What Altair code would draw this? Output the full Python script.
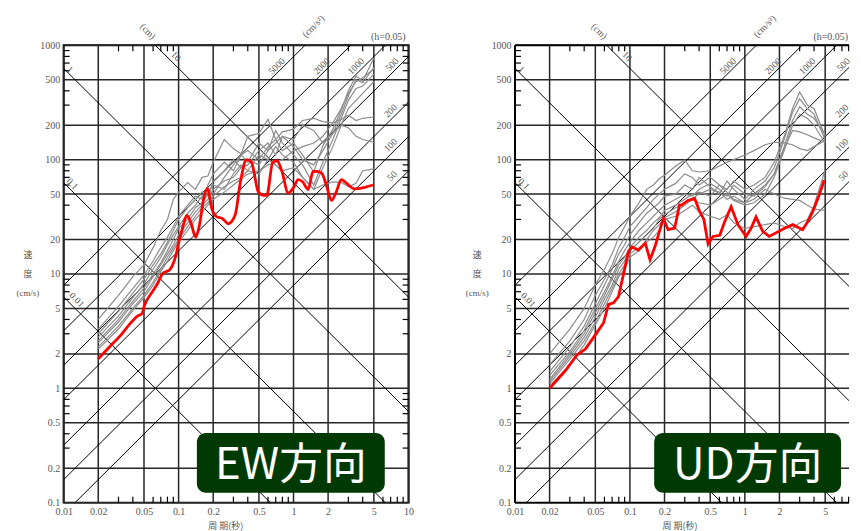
import math
import altair as alt
import pandas as pd

# ---------------- axes / grid values ----------------
X_TICKS = [0.01, 0.02, 0.05, 0.1, 0.2, 0.5, 1, 2, 5, 10]
Y_TICKS = [0.1, 0.2, 0.5, 1, 2, 5, 10, 20, 50, 100, 200, 500, 1000]
X_MINOR = [0.03, 0.04, 0.06, 0.07, 0.08, 0.09, 0.3, 0.4, 0.6, 0.7, 0.8, 0.9,
           3, 4, 6, 7, 8, 9]
Y_MINOR = [0.3, 0.4, 0.6, 0.7, 0.8, 0.9, 3, 4, 6, 7, 8, 9, 30, 40, 60, 70, 80, 90,
           300, 400, 600, 700, 800, 900]
DISP_LINES = [0.01, 0.1, 1, 10]                       # cm
ACC_LINES = [50, 100, 200, 500, 1000, 2000, 5000]     # cm/s^2

# ---------------- EW data ----------------
EW_RED_T = [0.02, 0.025, 0.0317, 0.038, 0.0442, 0.048, 0.0504, 0.058, 0.0658, 0.0727,
            0.078, 0.083, 0.0948, 0.101, 0.108, 0.118, 0.128, 0.141, 0.152, 0.165,
            0.178, 0.195, 0.215, 0.24, 0.27, 0.31, 0.345, 0.39, 0.43, 0.495,
            0.55, 0.585, 0.66, 0.717, 0.79, 0.9, 1.0, 1.1, 1.2, 1.34,
            1.48, 1.6, 1.76, 1.95, 2.14, 2.35, 2.61, 2.85, 3.41, 4.1, 4.91]
EW_RED_V = [1.81, 2.3, 2.95, 3.7, 4.3, 4.5, 5.3, 6.8, 8.3, 10.1,
            10.5, 10.8, 14.6, 19.5, 25, 32.6, 28, 21, 27, 45,
            56, 37, 31.6, 30.6, 27.5, 32.6, 63.6, 100, 95, 52,
            48.7, 48.7, 95, 98, 80, 51, 57, 67, 64, 54.8,
            78.8, 79, 76, 58, 44, 52, 67, 63, 55.5, 57, 60]

T_GRID = [0.02, 0.03, 0.04, 0.05, 0.06, 0.07, 0.08, 0.09, 0.1, 0.12, 0.14, 0.16,
          0.18, 0.2, 0.25, 0.3, 0.35, 0.4, 0.5, 0.6, 0.7, 0.8, 1.0, 1.2, 1.5, 1.8,
          2.2, 2.6, 3.0, 3.5, 4.0, 5.0]

EW_G1 = [4.0, 6.5, 9.5, 12, 17, 24, 30, 45, 52, 63, 55, 70, 72, 95, 150, 125, 112, 160,
         170, 225, 150, 175, 185, 220, 230, 215, 210, 225, 245, 220, 230, 236]
EW_G2 = [3.3, 5.2, 7.5, 9.8, 13, 17, 21, 26, 32, 40, 48, 45, 60, 75, 95, 80, 110, 120,
         100, 130, 150, 120, 140, 110, 78, 132, 185, 270, 400, 540, 486, 775]
EW_G3 = [3.0, 4.7, 6.8, 9.0, 12, 15, 19, 24, 30, 38, 45, 52, 48, 65, 80, 100, 85, 90,
         120, 140, 110, 160, 130, 100, 90, 120, 170, 250, 360, 500, 470, 640]
EW_G4 = [2.8, 4.3, 6.2, 8.2, 11, 14, 18, 22, 26, 34, 40, 48, 55, 50, 70, 90, 110, 95,
         140, 120, 180, 140, 110, 90, 60, 95, 150, 230, 330, 420, 440, 560]
EW_G5 = [2.6, 4.0, 5.8, 7.5, 10, 12.5, 16, 20, 25, 30, 38, 42, 50, 60, 55, 75, 90, 80,
         110, 100, 130, 110, 95, 70, 55, 85, 130, 200, 280, 330, 380, 480]
EW_G6 = [2.5, 3.8, 5.5, 7.0, 9.5, 12, 15, 18, 22, 28, 35, 40, 45, 55, 65, 70, 85, 100,
         90, 120, 140, 160, 150, 200, 180, 140, 170, 200, 190, 160, 150, 142]
EW_G7 = [2.3, 3.5, 5.0, 6.5, 8.5, 11, 14, 17, 20, 26, 32, 38, 42, 48, 58, 65, 70, 80,
         75, 100, 90, 80, 85, 70, 55, 60, 64, 63, 58, 62, 80, 83]
EW_G8 = [2.2, 3.3, 4.8, 6.2, 8, 10.5, 13, 16, 19, 24, 30, 35, 40, 45, 52, 60, 68, 75,
         80, 90, 95, 100, 120, 130, 140, 160, 210, 280, 380, 480, 520, 620]

# ---------------- UD data ----------------
UD_RED_T = [0.02, 0.0275, 0.0346, 0.0409, 0.0516, 0.059, 0.0651, 0.072, 0.0795, 0.0878,
            0.097, 0.104, 0.1186, 0.136, 0.1496, 0.165, 0.195, 0.215, 0.245, 0.27,
            0.281, 0.32, 0.366, 0.405, 0.44, 0.479, 0.529, 0.605, 0.667, 0.76,
            0.87, 1.024, 1.13, 1.25, 1.43, 1.63, 2.2, 2.61, 3.18, 3.52, 3.9, 4.4, 4.9]
UD_RED_V = [1.0, 1.43, 1.96, 2.2, 3.07, 3.75, 5.42, 5.6, 6.35, 9.9,
            15.7, 17.2, 16.2, 18.6, 13.3, 17.3, 30.7, 24.4, 25.2, 40,
            40, 44, 45.7, 35, 30, 18.3, 21.3, 21.8, 28.6, 38.8,
            27, 21.3, 25, 31.6, 23.6, 21.3, 25, 27, 24.4, 28.6, 35, 48, 66]

UD_G1 = [2.0, 3.3, 5.0, 8.0, 11, 15, 21, 26, 32, 42, 55, 60, 68, 73, 88, 99, 80, 78,
         80, 88, 95, 100, 110, 120, 135, 142, 140, 135, 125, 120, 130, 147]
UD_G2 = [1.6, 2.6, 4.0, 6.5, 9.0, 12, 17, 21, 26, 32, 38, 45, 50, 55, 62, 75, 70, 60,
         70, 60, 55, 65, 55, 60, 70, 95, 160, 280, 390, 300, 280, 160]
UD_G3 = [1.4, 2.3, 3.5, 5.5, 8.0, 11, 15, 18, 22, 28, 34, 38, 42, 48, 50, 60, 55, 70,
         58, 50, 65, 55, 45, 55, 65, 85, 150, 260, 340, 280, 250, 150]
UD_G4 = [1.3, 2.1, 3.2, 5.0, 7.0, 9.5, 13, 16, 19, 24, 28, 32, 36, 40, 45, 50, 48, 55,
         62, 55, 48, 60, 50, 48, 58, 75, 130, 220, 290, 250, 230, 166]
UD_G5 = [1.2, 2.0, 3.0, 4.6, 6.5, 9.0, 12, 14, 17, 21, 24, 28, 31, 36, 40, 45, 50, 52,
         48, 60, 52, 45, 42, 50, 60, 75, 125, 180, 175, 165, 155, 142]
UD_G6 = [1.15, 1.9, 2.8, 4.2, 6.0, 8.0, 11, 13, 16, 19, 22, 25, 30, 33, 38, 42, 46, 50,
         55, 52, 45, 48, 42, 45, 55, 50, 46, 45, 44, 40, 37, 36]
UD_G7 = [1.1, 1.8, 2.6, 3.8, 5.5, 7.5, 10, 12, 15, 17, 19, 21, 24, 30, 32, 36, 40, 35,
         32, 30, 33, 28, 25, 26, 27, 28, 26, 25, 28, 30, 40, 81]
UD_G8 = [1.05, 1.6, 2.4, 3.6, 5.0, 7.0, 9.5, 11, 14, 16, 20, 24, 27, 31, 35, 40, 45, 42,
         40, 45, 50, 44, 40, 42, 50, 70, 120, 200, 250, 230, 200, 140]

# ---------------- annotation labels on the tripartite lines ----------------
LINE_LABEL_TEXT = ["1", "0.1", "0.01", "10", "5000", "2000", "1000", "500", "200",
                   "100", "50", "(cm)", "(cm/s²)"]
LINE_LABEL_T = [0.0113, 0.0119, 0.0130, 0.0947, 0.716, 1.76, 3.5, 7.2, 7.0, 7.0, 7.2,
                0.054, 1.49]
LINE_LABEL_V = [613, 61.4, 5.95, 802, 657, 657, 657, 678, 267, 134, 72, 1323, 1463]
LINE_LABEL_ANGLE = [45, 45, 45, 45, 315, 315, 315, 315, 315, 315, 315, 45, 315]

H = 460
PX_PER_DECADE = 115.6
SERIF = "Liberation Serif"
CJK = "Noto Sans CJK JP"
TXT = "#555555"
GRID = "#262626"


def make_panel(red_t, red_v, grays, box_text, box_x0, box_x1, ytitle_x, xtitle_x,
               red_interp, anchor, width, full_frame):
    xmax = 10 ** (width / PX_PER_DECADE - 2)
    xs = alt.Scale(type="log", domain=[0.01, xmax], nice=False)
    ys = alt.Scale(type="log", domain=[0.1, 1000], nice=False)
    xvals = [v for v in X_TICKS if v <= xmax * 1.001]
    xaxis = alt.Axis(values=xvals, format="~g", ticks=False, domain=False, grid=False,
                     labelFont=SERIF, labelFontSize=10, labelColor=TXT, labelPadding=4,
                     labelFlush=False, labelOverlap=False, title=None)
    yaxis = alt.Axis(values=Y_TICKS, format="~g", ticks=False, domain=False, grid=False,
                     labelFont=SERIF, labelFontSize=10, labelColor=TXT, labelPadding=4,
                     labelFlush=False, labelOverlap=False, title=None)

    def X(f):
        return alt.X(f, type="quantitative", scale=xs, axis=xaxis)

    def Y(f):
        return alt.Y(f, type="quantitative", scale=ys, axis=yaxis)

    one = alt.Data(values=[{"a": 1}])
    layers = []
    if anchor:
        # invisible corner that fixes the page offset of the plot area
        layers.append(alt.Chart(one).mark_rule(color="white", strokeWidth=1).encode(
            x=alt.value(-54), x2=alt.value(-53), y=alt.value(-34)))
    # grid
    layers.append(alt.Chart(pd.DataFrame({"T": xvals})).mark_rule(
        color=GRID, strokeWidth=1.5).encode(x=X("T")))
    layers.append(alt.Chart(pd.DataFrame({"V": Y_TICKS})).mark_rule(
        color=GRID, strokeWidth=1.5).encode(y=Y("V")))

    # tripartite diagonal lines
    rows = []
    for d in DISP_LINES:
        for t in (0.001, 100.0):
            rows.append({"T": t, "V": 2 * math.pi * d / t, "g": f"d{d}"})
    for a in ACC_LINES:
        for t in (0.001, 100.0):
            rows.append({"T": t, "V": a * t / (2 * math.pi), "g": f"a{a}"})
    layers.append(alt.Chart(pd.DataFrame(rows)).mark_line(
        color="black", strokeWidth=1, clip=True).encode(
        x=X("T"), y=Y("V"), detail="g:N"))

    # inward minor ticks on the sides
    dfx = pd.DataFrame({"T": [v for v in X_MINOR if v <= xmax]})
    dfy = pd.DataFrame({"V": Y_MINOR})
    layers.append(alt.Chart(dfx).mark_rule(color="black", strokeWidth=1.2).encode(
        x=X("T"), y=alt.value(0), y2=alt.value(6)))
    layers.append(alt.Chart(dfx).mark_rule(color="black", strokeWidth=1.2).encode(
        x=X("T"), y=alt.value(H), y2=alt.value(H - 6)))
    layers.append(alt.Chart(dfy).mark_rule(color="black", strokeWidth=1.2).encode(
        y=Y("V"), x=alt.value(0), x2=alt.value(6)))
    if full_frame:
        layers.append(alt.Chart(dfy).mark_rule(color="black", strokeWidth=1.2).encode(
            y=Y("V"), x=alt.value(width), x2=alt.value(width - 6)))
    else:
        # frame drawn by hand: the right edge lies beyond the page
        layers.append(alt.Chart(one).mark_rule(color="black", strokeWidth=2).encode(
            x=alt.value(0), x2=alt.value(width), y=alt.value(0)))
        layers.append(alt.Chart(one).mark_rule(color="black", strokeWidth=2).encode(
            x=alt.value(0), x2=alt.value(width), y=alt.value(H)))
        layers.append(alt.Chart(one).mark_rule(color="black", strokeWidth=2).encode(
            x=alt.value(0), y=alt.value(0), y2=alt.value(H)))

    # gray spectra
    grows = []
    for i, g in enumerate(grays):
        for t, v in zip(T_GRID, g):
            grows.append({"T": t, "V": v, "s": f"s{i}"})
    layers.append(alt.Chart(pd.DataFrame(grows)).mark_line(
        color="#8c8c8c", strokeWidth=1.2).encode(x=X("T"), y=Y("V"), detail="s:N"))

    # red spectrum
    layers.append(alt.Chart(pd.DataFrame({"T": red_t, "V": red_v})).mark_line(
        color="#ff0000", strokeWidth=2.8, interpolate=red_interp).encode(
        x=X("T"), y=Y("V")))

    # labels on lines
    ldf = pd.DataFrame({"T": LINE_LABEL_T, "V": LINE_LABEL_V, "txt": LINE_LABEL_TEXT,
                        "ang": LINE_LABEL_ANGLE})
    layers.append(alt.Chart(ldf).mark_text(
        font=SERIF, fontSize=9.5, color=TXT, align="center", baseline="middle").encode(
        x=X("T"), y=Y("V"), text="txt:N", angle=alt.Angle("ang:Q", scale=None)))

    layers.append(alt.Chart(one).mark_text(
        text="(h=0.05)", font=SERIF, fontSize=10, color=TXT, align="right",
        baseline="middle").encode(x=alt.value(min(344, width - 1)), y=alt.value(-8)))

    # axis titles
    for txt, yy, fnt in (("速", 211, CJK), ("度", 230, CJK), ("(cm/s)", 249, SERIF)):
        layers.append(alt.Chart(one).mark_text(
            text=txt, font=fnt, fontSize=9, color=TXT, align="center",
            baseline="middle").encode(x=alt.value(ytitle_x), y=alt.value(yy)))
    layers.append(alt.Chart(one).mark_text(
        text="周 期(秒)", font=CJK, fontSize=9, color=TXT, align="center",
        baseline="middle").encode(x=alt.value(xtitle_x), y=alt.value(H + 24)))

    # direction badge
    layers.append(alt.Chart(one).mark_rect(
        color="#003a02", cornerRadius=9).encode(
        x=alt.value(box_x0), x2=alt.value(box_x1), y=alt.value(390), y2=alt.value(450)))
    layers.append(alt.Chart(one).mark_text(
        text=box_text, font=CJK, fontSize=44, color="white", align="center",
        baseline="middle").encode(
        x=alt.value((box_x0 + box_x1) / 2), y=alt.value(423)))

    chart = alt.layer(*layers).properties(width=width, height=H)
    if not full_frame:
        chart = chart.properties(view=alt.ViewBackground(stroke="transparent"))
    return chart


left = make_panel(EW_RED_T, EW_RED_V,
                  [EW_G1, EW_G2, EW_G3, EW_G4, EW_G5, EW_G6, EW_G7, EW_G8],
                  "EW方向", 134, 323, -36, 163, "monotone", True, 347, True)
right = make_panel(UD_RED_T, UD_RED_V,
                   [UD_G1, UD_G2, UD_G3, UD_G4, UD_G5, UD_G6, UD_G7, UD_G8],
                   "UD方向", 140, 328, -38, 166, "linear", False, 336, False)

chart = alt.hconcat(left, right, spacing=107, bounds="flush").properties(
    padding={"left": 0, "top": 0, "right": 0, "bottom": 0},
    background="white",
).configure_view(stroke="black", strokeWidth=2)

chart.save("out.html", embed_options={"renderer": "svg", "actions": False})
